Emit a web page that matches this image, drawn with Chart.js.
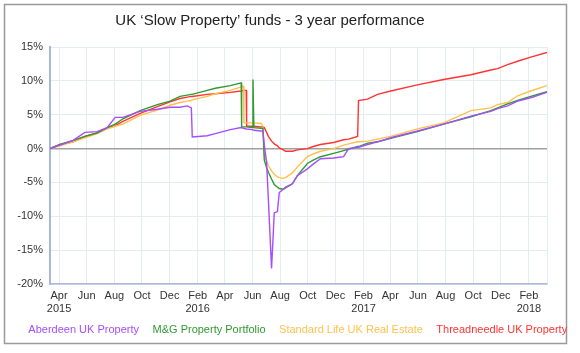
<!DOCTYPE html>
<html>
<head>
<meta charset="utf-8">
<script src="https://cdn.jsdelivr.net/npm/chart.js@4"></script>
<style>
  body { margin: 0; background: #fff; }
</style>
</head>
<body>
<canvas id="myChart" width="580" height="353"></canvas>
<script>
const startDate = "2015-03-12";
const endDate = "2018-03-13";

const dates = [
  "2015-03-12", "2015-04-03", "2015-05-02", "2015-05-28", "2015-06-24", "2015-07-16",
  "2015-08-03", "2015-08-20", "2015-09-27", "2015-11-04", "2015-12-02", "2015-12-24",
  "2016-01-09", "2016-01-18", "2016-01-20", "2016-02-22", "2016-03-11", "2016-04-13",
  "2016-05-07", "2016-05-08", "2016-05-12", "2016-05-13", "2016-05-18", "2016-05-19",
  "2016-06-01", "2016-06-02", "2016-06-04", "2016-06-20", "2016-06-24", "2016-06-27",
  "2016-07-02", "2016-07-06", "2016-07-13", "2016-07-19", "2016-07-26", "2016-07-30",
  "2016-08-08", "2016-08-13", "2016-08-28", "2016-09-08", "2016-09-30", "2016-10-13",
  "2016-10-29", "2016-11-27", "2016-12-19", "2016-12-30", "2017-01-19", "2017-01-21",
  "2017-02-10", "2017-03-04", "2017-04-02", "2017-05-31", "2017-07-28", "2017-09-26",
  "2017-11-09", "2017-11-24", "2017-12-16", "2018-01-07", "2018-02-05", "2018-03-13",
];

const aberdeen = [
  0, 0.5, 1.2, 2.4, 2.5, 3.1, 4.6, 4.6, 5.5, 5.8, 6.1, 6.1,
  6.3, 6.0, 1.7, 1.9, 2.2, 2.8, 3.1, 3.1, 3.0, 3.0, 2.9, 2.9,
  2.8, 2.8, 2.7, 2.6, 2.6, 0.5, -2.0, -7.5, -17.7, -9.5, -9.3, -6.5,
  -6.0, -5.7, -5.2, -4.0, -3.0, -2.3, -1.5, -1.4, -1.2, 0, 0.2, 0.2,
  0.6, 1.0, 1.6, 2.6, 3.6, 4.8, 5.5, 5.9, 6.3, 7.0, 7.5, 8.3,
];

const mgProperty = [
  0, 0.6, 1.2, 1.8, 2.3, 3.1, 3.6, 4.4, 5.6, 6.5, 7.0, 7.7,
  7.9, 8.0, 8.0, 8.6, 8.9, 9.3, 9.7, 3.2, 3.2, 3.2, 3.2, 3.2,
  3.1, 10.2, 3.1, 3.0, 3.0, -1.7, -2.8, -3.5, -4.5, -5.3, -5.7, -5.9,
  -6.0, -5.8, -5.2, -4.0, -2.2, -1.7, -1.2, -0.7, -0.3, -0.1, 0.3, 0.3,
  0.8, 1.0, 1.5, 2.5, 3.6, 4.7, 5.6, 6.0, 6.6, 7.1, 7.7, 8.4,
];

const standardLife = [
  0, 0.4, 1.0, 1.6, 2.2, 2.9, 3.3, 3.6, 4.9, 5.7, 6.4, 6.8,
  7.0, 7.1, 7.2, 7.7, 8.1, 8.6, 9.1, 9.1, 9.2, 3.8, 3.8, 3.8,
  3.8, 3.8, 3.8, 3.7, 3.3, -1.0, -1.8, -2.5, -3.3, -3.8, -4.2, -4.3,
  -4.4, -4.3, -3.6, -2.7, -1.2, -0.8, -0.4, 0.0, 0.5, 0.7, 1.0, 1.0,
  1.1, 1.4, 1.8, 2.9, 3.8, 5.6, 6.0, 6.5, 6.8, 7.8, 8.5, 9.3,
];

const threadneedle = [
  0, 0.6, 1.0, 1.8, 2.3, 3.0, 3.4, 4.0, 5.2, 6.2, 6.9, 7.4,
  7.6, 7.7, 7.7, 8.0, 8.1, 8.3, 8.5, 8.5, 8.6, 8.6, 8.6, 3.3,
  3.3, 3.3, 3.3, 3.2, 3.2, 3.1, 2.4, 1.8, 1.1, 0.7, 0.4, 0.1,
  -0.2, -0.4, -0.4, -0.2, 0.0, 0.3, 0.6, 0.9, 1.3, 1.4, 1.8, 7.1,
  7.3, 8.0, 8.5, 9.4, 10.2, 10.9, 11.6, 11.8, 12.4, 12.9, 13.5, 14.2,
];

const seriesNames = ["Aberdeen UK Property", "M&G Property Portfolio", "Standard Life UK Real Estate", "Threadneedle UK Property"];
const seriesColors = ["#a64dff", "#2f9a2f", "#ffc04d", "#ff3333"];

const tickDates = [
  "2015-04-01", "2015-06-01", "2015-08-01", "2015-10-01", "2015-12-01", "2016-02-01",
  "2016-04-01", "2016-06-01", "2016-08-01", "2016-10-01", "2016-12-01", "2017-02-01",
  "2017-04-01", "2017-06-01", "2017-08-01", "2017-10-01", "2017-12-01", "2018-02-01",
];
const tickLabels = [
  ["Apr", "2015"], "Jun", "Aug", "Oct", "Dec", ["Feb", "2016"],
  "Apr", "Jun", "Aug", "Oct", "Dec", ["Feb", "2017"],
  "Apr", "Jun", "Aug", "Oct", "Dec", ["Feb", "2018"],
];

const chartTitle = "UK \u2018Slow Property\u2019 funds - 3 year performance";

function toDay(d) {
  return (Date.parse(d) - Date.parse(startDate)) / 86400000;
}

const allSeries = [aberdeen, mgProperty, standardLife, threadneedle];

// frame round the picture, title, and the light right edge of the plot
const framePlugin = {
  id: "frame",
  beforeDraw(chart) {
    const ctx = chart.ctx;
    ctx.save();
    ctx.fillStyle = "#fff";
    ctx.fillRect(0, 0, chart.width, chart.height);
    ctx.strokeStyle = "#9a9a9a";
    ctx.lineWidth = 1.5;
    ctx.strokeRect(4.5, 4.5, 562, 339);
    ctx.fillStyle = "#222";
    ctx.font = "15px 'Liberation Sans', Arial, sans-serif";
    ctx.textAlign = "center";
    ctx.textBaseline = "middle";
    ctx.fillText(chartTitle, 270, 21);
    ctx.restore();
  },
  afterDatasetsDraw(chart) {
    const a = chart.chartArea;
    const ctx = chart.ctx;
    ctx.save();
    ctx.strokeStyle = "#e3ebf3";
    ctx.lineWidth = 1;
    ctx.beginPath();
    ctx.moveTo(a.right + 0.5, a.top);
    ctx.lineTo(a.right + 0.5, a.bottom);
    ctx.stroke();
    ctx.restore();
  },
};

Chart.defaults.font.family = "'Liberation Sans', Arial, sans-serif";
Chart.defaults.font.size = 11;
Chart.defaults.color = "#333";

new Chart("myChart", {
  type: "line",
  data: {
    datasets: allSeries.map((vals, i) => ({
      label: seriesNames[i],
      data: dates.map((d, j) => ({ x: toDay(d), y: vals[j] })),
      borderColor: seriesColors[i],
      borderWidth: 1.4,
      pointRadius: 0,
      fill: false,
      tension: 0,
    })),
  },
  options: {
    responsive: false,
    animation: false,
    layout: { padding: { top: 47, right: 0, left: 10, bottom: 8 } },
    plugins: {
      title: { display: false },
      tooltip: { enabled: false },
      legend: {
        position: "bottom",
        labels: {
          boxWidth: 0,
          padding: 8,
          font: { size: 11 },
          generateLabels: (chart) =>
            chart.data.datasets.map((ds, i) => ({
              text: ds.label,
              fontColor: ds.borderColor,
              fillStyle: "rgba(0,0,0,0)",
              strokeStyle: "rgba(0,0,0,0)",
              lineWidth: 0,
              hidden: false,
              datasetIndex: i,
            })),
        },
      },
    },
    scales: {
      x: {
        type: "linear",
        min: 0,
        max: toDay(endDate),
        afterBuildTicks: (scale) => {
          scale.ticks = tickDates.map((d) => ({ value: toDay(d) }));
        },
        afterFit: (scale) => {
          scale.height = 32;
        },
        ticks: {
          autoSkip: false,
          maxRotation: 0,
          padding: 5,
          callback: (value, index) => tickLabels[index],
        },
        grid: { color: "#e3ebf3", drawTicks: false },
        border: { color: "#a9b7da", width: 1.5 },
      },
      y: {
        min: -20,
        max: 15,
        afterFit: (scale) => {
          scale.width = 40;
        },
        ticks: {
          stepSize: 5,
          padding: 7,
          callback: (v) => v + "%",
        },
        grid: {
          drawTicks: false,
          color: (c) => (c.tick && c.tick.value === 0 ? "#a0a0a0" : "#e3ebf3"),
          lineWidth: (c) => (c.tick && c.tick.value === 0 ? 1.5 : 1),
        },
        border: { color: "#a9b7da", width: 2 },
      },
      yRight: {
        position: "right",
        min: -20,
        max: 15,
        afterFit: (scale) => {
          scale.width = 33;
        },
        ticks: { display: false },
        grid: { display: false, drawTicks: false },
        border: { display: false },
      },
    },
  },
  plugins: [framePlugin],
});
</script>
</body>
</html>
